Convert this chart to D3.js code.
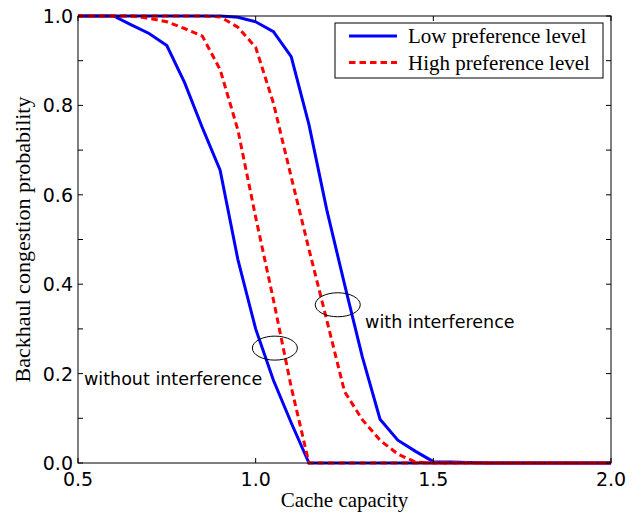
<!DOCTYPE html>
<html>
<head>
<meta charset="utf-8">
<script src="https://cdn.jsdelivr.net/npm/d3@7.9.0/dist/d3.min.js"></script>
<style>
  html, body { margin: 0; padding: 0; background: #fff; }
  svg { display: block; }
  .tick-label { font-family: "DejaVu Sans", sans-serif; font-size: 19px; fill: #000; }
  .serif { font-family: "Liberation Serif", "Times New Roman", serif; font-size: 21px; fill: #000; }
  .note { font-family: "DejaVu Sans", sans-serif; font-size: 17.5px; fill: #000; }
</style>
</head>
<body>
<svg id="chart" width="641" height="517"></svg>
<script>
// cache capacity grid (x values)
const capacity = [0.5, 0.55, 0.6, 0.65, 0.7, 0.75, 0.8, 0.85, 0.9, 0.95,
  1.0, 1.05, 1.1, 1.15, 1.2, 1.25, 1.3, 1.35, 1.4, 1.45,
  1.5, 1.55, 1.6, 1.65, 1.7, 1.75, 1.8, 1.85, 1.9, 1.95, 2.0];

// low preference level, without interference
const lowNoInterference = [1, 1, 1, 0.98, 0.961, 0.934, 0.851, 0.75, 0.655, 0.455,
  0.30, 0.185, 0.09, 0, 0, 0, 0, 0, 0, 0,
  0, 0, 0, 0, 0, 0, 0, 0, 0, 0, 0];
// low preference level, with interference
const lowInterference = [1, 1, 1, 1, 1, 1, 1, 1, 1, 0.997,
  0.987, 0.965, 0.909, 0.757, 0.567, 0.40, 0.238, 0.098, 0.051, 0.026,
  0.003, 0.002, 0.001, 0, 0, 0, 0, 0, 0, 0, 0];
// high preference level, without interference
const highNoInterference = [1, 1, 1, 1, 0.995, 0.987, 0.972, 0.955, 0.88, 0.745,
  0.55, 0.365, 0.17, 0, 0, 0, 0, 0, 0, 0,
  0, 0, 0, 0, 0, 0, 0, 0, 0, 0, 0];
// high preference level, with interference
const highInterference = [1, 1, 1, 1, 1, 1, 1, 1, 0.998, 0.975,
  0.93, 0.805, 0.64, 0.478, 0.32, 0.16, 0.097, 0.051, 0.02, 0.002,
  0, 0, 0, 0, 0, 0, 0, 0, 0, 0, 0];

const xTicks = [0.5, 1.0, 1.5, 2.0];
const yTicks = [0, 0.1, 0.2, 0.3, 0.4, 0.5, 0.6, 0.7, 0.8, 0.9, 1.0];
const yLabelTicks = [0, 0.2, 0.4, 0.6, 0.8, 1.0];

const legendItems = [
  { label: 'Low preference level', color: '#0000ff', dash: null },
  { label: 'High preference level', color: '#ff0000', dash: '6.5,4' },
];

const plot = { left: 78, right: 611, top: 16, bottom: 463 };
const svg = d3.select('#chart');

const x = d3.scaleLinear().domain([0.5, 2.0]).range([plot.left, plot.right]);
const y = d3.scaleLinear().domain([0, 1]).range([plot.bottom, plot.top]);

const line = d3.line()
  .x((d) => x(d[0]))
  .y((d) => y(d[1]));

const curves = [
  { values: lowNoInterference, style: legendItems[0] },
  { values: lowInterference, style: legendItems[0] },
  { values: highNoInterference, style: legendItems[1] },
  { values: highInterference, style: legendItems[1] },
];

curves.forEach((c) => {
  svg.append('path')
    .datum(capacity.map((cap, i) => [cap, c.values[i]]))
    .attr('d', line)
    .attr('fill', 'none')
    .attr('stroke', c.style.color)
    .attr('stroke-width', 3)
    .attr('stroke-dasharray', c.style.dash);
});

// frame
svg.append('rect')
  .attr('x', plot.left).attr('y', plot.top)
  .attr('width', plot.right - plot.left).attr('height', plot.bottom - plot.top)
  .attr('fill', 'none').attr('stroke', '#000').attr('stroke-width', 1);

// ticks pointing inward on all four sides
const tickLen = 5;
xTicks.forEach((t) => {
  svg.append('line').attr('x1', x(t)).attr('x2', x(t)).attr('y1', plot.bottom).attr('y2', plot.bottom - tickLen).attr('stroke', '#000');
  svg.append('line').attr('x1', x(t)).attr('x2', x(t)).attr('y1', plot.top).attr('y2', plot.top + tickLen).attr('stroke', '#000');
  svg.append('text').attr('class', 'tick-label')
    .attr('x', x(t)).attr('y', plot.bottom + 23)
    .attr('text-anchor', 'middle')
    .text(d3.format('.1f')(t));
});
yTicks.forEach((t) => {
  svg.append('line').attr('x1', plot.left).attr('x2', plot.left + tickLen).attr('y1', y(t)).attr('y2', y(t)).attr('stroke', '#000');
  svg.append('line').attr('x1', plot.right).attr('x2', plot.right - tickLen).attr('y1', y(t)).attr('y2', y(t)).attr('stroke', '#000');
});
yLabelTicks.forEach((t) => {
  svg.append('text').attr('class', 'tick-label')
    .attr('x', plot.left - 5).attr('y', y(t) + 7)
    .attr('text-anchor', 'end')
    .text(d3.format('.1f')(t));
});

// axis titles
svg.append('text').attr('class', 'serif')
  .attr('x', (plot.left + plot.right) / 2).attr('y', 507)
  .attr('text-anchor', 'middle')
  .text('Cache capacity');
svg.append('text').attr('class', 'serif')
  .style('font-size', '22px')
  .attr('transform', `translate(30,${(plot.top + plot.bottom) / 2}) rotate(-90)`)
  .attr('text-anchor', 'middle')
  .text('Backhaul congestion probability');

// annotations
const ellipses = [
  { cx: 1.054, cy: 0.257 },
  { cx: 1.231, cy: 0.354 },
];
ellipses.forEach((e) => {
  svg.append('ellipse')
    .attr('cx', x(e.cx)).attr('cy', y(e.cy))
    .attr('rx', 22.5).attr('ry', 12)
    .attr('fill', 'none').attr('stroke', '#000').attr('stroke-width', 1);
});
svg.append('text').attr('class', 'note')
  .attr('x', x(1.308)).attr('y', y(0.302))
  .text('with interference');
svg.append('text').attr('class', 'note')
  .attr('x', x(0.517)).attr('y', y(0.175))
  .text('without interference');

// legend
const legend = svg.append('g').attr('transform', 'translate(335,23)');
legend.append('rect')
  .attr('width', 268).attr('height', 55)
  .attr('fill', '#fff').attr('stroke', '#000').attr('stroke-width', 1);
legendItems.forEach((d, i) => {
  const ly = 13 + i * 26.5;
  legend.append('line')
    .attr('x1', 14).attr('x2', 62).attr('y1', ly).attr('y2', ly)
    .attr('stroke', d.color).attr('stroke-width', 3)
    .attr('stroke-dasharray', d.dash);
  legend.append('text').attr('class', 'serif')
    .attr('x', 73).attr('y', ly + 7)
    .text(d.label);
});
</script>
</body>
</html>
